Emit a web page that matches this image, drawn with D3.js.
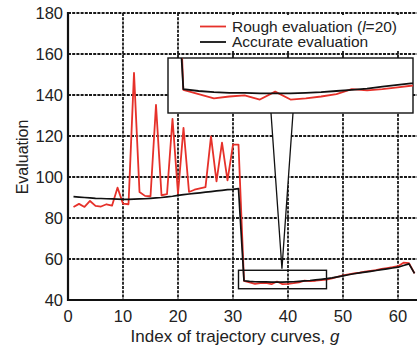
<!DOCTYPE html>
<html>
<head>
<meta charset="utf-8">
<script src="https://cdn.jsdelivr.net/npm/d3@7"></script>
<style>
  body { margin: 0; background: #fff; }
  svg { display: block; font-family: "Liberation Sans", Arial, sans-serif; }
</style>
</head>
<body>
<svg id="chart" width="417" height="350"></svg>
<script>
// Evaluation of trajectory curves: rough vs accurate

const indexG = d3.range(1, 64);
const roughEval = [
  85.4, 86.9, 85.4, 88.3, 85.9, 85.6, 86.7, 86.0, 94.8, 87.0,
  86.7, 150.8, 92.7, 90.8, 90.6, 135.2, 91.1, 91.6, 128.4, 91.9,
  124.0, 92.7, 93.8, 94.5, 95.1, 119.8, 97.9, 116.8, 98.4, 115.8,
  115.8, 49.3, 48.6, 47.9, 48.2, 48.4, 47.7, 49.0, 47.7, 47.9,
  48.2, 48.6, 49.4, 49.2, 49.4, 49.7, 50.0, 50.6, 51.3, 52.0,
  52.5, 53.0, 53.3, 53.8, 54.2, 54.6, 55.2, 55.6, 56.0, 56.5,
  58.2, 58.0, 53.0
];
const accurateEval = [
  90.4, 90.2, 90.0, 89.8, 89.6, 89.5, 89.4, 89.3, 89.2, 89.1,
  89.1, 89.2, 89.3, 89.4, 89.6, 89.8, 90.0, 90.3, 90.6, 91.0,
  91.4, 91.7, 92.0, 92.3, 92.6, 92.9, 93.2, 93.5, 93.8, 94.0,
  94.3, 49.4, 49.1, 48.9, 48.8, 48.8, 48.7, 48.7, 48.7, 48.8,
  48.9, 49.1, 49.3, 49.5, 49.8, 50.1, 50.4, 50.8, 51.3, 51.8,
  52.3, 52.8, 53.2, 53.6, 54.0, 54.4, 54.8, 55.2, 55.6, 56.0,
  56.8, 57.6, 53.0
];
const xTicks = [0, 10, 20, 30, 40, 50, 60];
const yTicks = [40, 60, 80, 100, 120, 140, 160, 180];
const zoomX = [31, 47];
const zoomY = [45.5, 54.5];

const roughData = indexG.map((g, i) => ({ g: g, v: roughEval[i] }));
const accurateData = indexG.map((g, i) => ({ g: g, v: accurateEval[i] }));

const svg = d3.select("#chart");
const margin = { left: 68, top: 13, bottom: 300 };
const x = d3.scaleLinear().domain([0, 70]).range([margin.left, margin.left + 70 * 5.5]);
const y = d3.scaleLinear().domain([40, 180]).range([margin.bottom, margin.top]);

const red = "#e6312a";
const dark = "#111";

// clip for main plot
const defs = svg.append("defs");
defs.append("clipPath").attr("id", "plotClip")
  .append("rect").attr("x", margin.left).attr("y", margin.top)
  .attr("width", 417 - margin.left).attr("height", margin.bottom - margin.top);

// grid
const grid = svg.append("g");
grid.selectAll(".gx").data(xTicks.filter(d => d > 0)).enter().append("line")
  .attr("x1", d => x(d)).attr("x2", d => x(d))
  .attr("y1", y(180)).attr("y2", y(40))
  .attr("stroke", "#1a1a1a").attr("stroke-width", 1.8).attr("stroke-dasharray", "3,1.2");
grid.selectAll(".gy").data(yTicks.filter(d => d > 40)).enter().append("line")
  .attr("x1", x(0)).attr("x2", 417)
  .attr("y1", d => y(d)).attr("y2", d => y(d))
  .attr("stroke", "#1a1a1a").attr("stroke-width", 1.8).attr("stroke-dasharray", "3,1.2");

// axes lines
svg.append("line").attr("x1", x(0)).attr("x2", x(0)).attr("y1", y(180) - 1).attr("y2", y(40) + 1)
  .attr("stroke", dark).attr("stroke-width", 2.2);
svg.append("line").attr("x1", x(0)).attr("x2", 417).attr("y1", y(40)).attr("y2", y(40))
  .attr("stroke", dark).attr("stroke-width", 2.2);

// tick labels
svg.selectAll(".yl").data(yTicks).enter().append("text")
  .attr("x", x(0) - 5).attr("y", d => y(d) + 6)
  .attr("text-anchor", "end").attr("font-size", 16.5).attr("fill", "#222")
  .text(d => d);
svg.selectAll(".xl").data(xTicks).enter().append("text")
  .attr("x", d => x(d)).attr("y", y(40) + 22)
  .attr("text-anchor", "middle").attr("font-size", 16.5).attr("fill", "#222")
  .text(d => d);

// axis titles
const xt = svg.append("text").attr("x", 235).attr("y", 342)
  .attr("text-anchor", "middle").attr("font-size", 17).attr("fill", "#222");
xt.append("tspan").text("Index of trajectory curves, ");
xt.append("tspan").attr("font-style", "italic").text("g");
svg.append("text").attr("transform", "translate(28,157) rotate(-90)")
  .attr("text-anchor", "middle").attr("font-size", 16).attr("fill", "#222")
  .text("Evaluation");

// main series
const line = d3.line().x(d => x(d.g)).y(d => y(d.v));
const plot = svg.append("g").attr("clip-path", "url(#plotClip)");
plot.append("path").datum(roughData).attr("d", line)
  .attr("fill", "none").attr("stroke", red).attr("stroke-width", 1.8).attr("stroke-linejoin", "round");
plot.append("path").datum(accurateData).attr("d", line)
  .attr("fill", "none").attr("stroke", dark).attr("stroke-width", 1.7).attr("stroke-linejoin", "round");

// small zoom rectangle
svg.append("rect")
  .attr("x", x(zoomX[0])).attr("y", y(zoomY[1]))
  .attr("width", x(zoomX[1]) - x(zoomX[0])).attr("height", y(zoomY[0]) - y(zoomY[1]))
  .attr("fill", "none").attr("stroke", dark).attr("stroke-width", 1.4);

// inset
const inset = { x0: 168, x1: 413, y0: 58, y1: 113 };
const ix = d3.scaleLinear().domain(zoomX).range([inset.x0, inset.x1]);
const iy = d3.scaleLinear().domain(zoomY).range([inset.y1, inset.y0]);
const apex = [x(38.9), y(zoomY[1]) - 1.5];
svg.append("path")
  .attr("d", `M${271},${inset.y1}L${apex[0]},${apex[1]}L${293},${inset.y1}`)
  .attr("fill", "#fff").attr("stroke", dark).attr("stroke-width", 1.3);
svg.append("rect")
  .attr("x", inset.x0).attr("y", inset.y0)
  .attr("width", inset.x1 - inset.x0).attr("height", inset.y1 - inset.y0)
  .attr("fill", "#fff").attr("stroke", dark).attr("stroke-width", 1.4);
defs.append("clipPath").attr("id", "insetClip")
  .append("rect").attr("x", inset.x0).attr("y", inset.y0)
  .attr("width", inset.x1 - inset.x0).attr("height", inset.y1 - inset.y0);
const iline = d3.line().x(d => ix(d.g)).y(d => iy(d.v));
const ig = svg.append("g").attr("clip-path", "url(#insetClip)");
ig.append("path").datum(roughData).attr("d", iline)
  .attr("fill", "none").attr("stroke", red).attr("stroke-width", 1.8).attr("stroke-linejoin", "round");
ig.append("path").datum(accurateData).attr("d", iline)
  .attr("fill", "none").attr("stroke", dark).attr("stroke-width", 1.8).attr("stroke-linejoin", "round");

// legend
const legend = svg.append("g");
legend.append("rect").attr("x", 196).attr("y", 15).attr("width", 221).attr("height", 36).attr("fill", "#fff");
const items = [
  { label: ["Rough evaluation (", "l", "=20)"], color: red, yy: 26.5 },
  { label: ["Accurate evaluation"], color: dark, yy: 42 }
];
items.forEach(it => {
  legend.append("line").attr("x1", 200).attr("x2", 226).attr("y1", it.yy).attr("y2", it.yy)
    .attr("stroke", it.color).attr("stroke-width", 1.8);
  const t = legend.append("text").attr("x", 232).attr("y", it.yy + 5)
    .attr("font-size", 15.5).attr("fill", "#222");
  it.label.forEach((s, i) => {
    t.append("tspan").attr("font-style", i === 1 ? "italic" : null).text(s);
  });
});
</script>
</body>
</html>
